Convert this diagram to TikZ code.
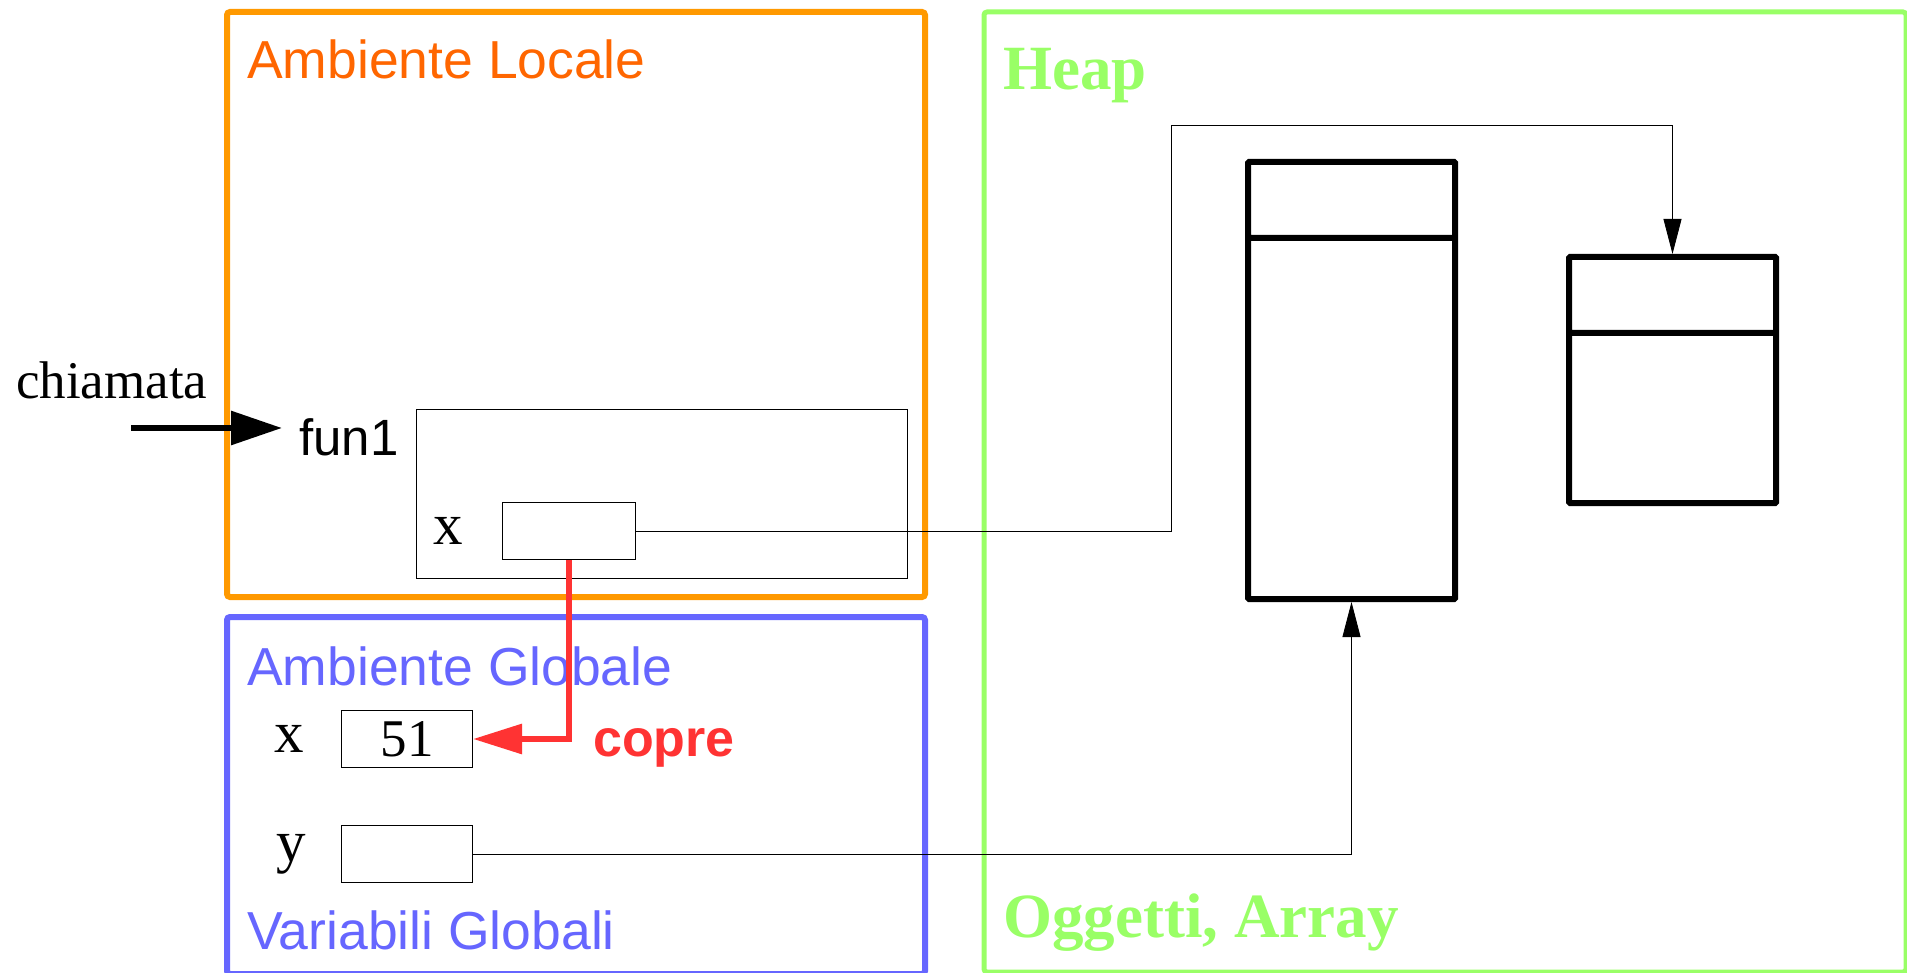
\documentclass[tikz,border=0pt]{standalone}
\usepackage{fontspec}
\setmainfont{Liberation Serif}
\setsansfont{Liberation Sans}
\usepackage{tikz}
\usetikzlibrary{shapes.multipart}
\usetikzlibrary{arrows.meta}
\usetikzlibrary{positioning}

\definecolor{localorange}{HTML}{FF9900}
\definecolor{localtext}{HTML}{FF6600}
\definecolor{globalblue}{HTML}{6666FF}
\definecolor{heapgreen}{HTML}{99FF66}
\definecolor{coverred}{HTML}{FF3333}

\begin{document}
\begin{tikzpicture}[x=1pt, y=-1pt,
		areabox/.style={rectangle, draw, line width=6pt, rounded corners=3pt, inner sep=0pt, outer sep=0pt, anchor=north west},
		varbox/.style={rectangle, draw, line width=1pt, inner sep=0pt, minimum width=131pt, minimum height=57pt, anchor=north west, font=\fontsize{53}{60}\selectfont},
		objbox/.style={rectangle split, rectangle split parts=2, draw, line width=6pt, rounded corners=1pt, inner sep=0pt, minimum width=207pt, anchor=north west},
		areatitle/.style={anchor=base west, inner sep=0pt, font=\sffamily\fontsize{53.5}{60}\selectfont},
		heaptitle/.style={anchor=base west, inner sep=0pt, text=heapgreen, font=\bfseries\fontsize{63}{70}\selectfont},
		varlabel/.style={inner sep=0pt, font=\fontsize{59}{60}\selectfont},
		refarrow/.style={-{Triangle[length=35pt, width=18pt]}, line width=0.8pt},
		bigarrow/.style={line width=6pt}]
		
		\path[use as bounding box, fill=white] (0,0) rectangle (1907,973);
		
		% memory areas
		\node[areabox, draw=localorange, minimum width=698pt, minimum height=585pt] (local) at (227,12) {};
		\node[areabox, draw=globalblue, minimum width=698pt, minimum height=357pt] (global) at (227,617) {};
		\node[areabox, draw=heapgreen, line width=5pt, minimum width=922pt, minimum height=960pt] (heap) at (984,12) {};
		
		\node[areatitle, text=localtext] (localname) at (247,79) {Ambiente Locale};
		\node[areatitle, text=globalblue] (globalname) at (247,685) {Ambiente Globale};
		\node[areatitle, text=globalblue] (globalvars) at (247,949) {Variabili Globali};
		\node[heaptitle] (heapname) at (1003,90) {Heap};
		\node[heaptitle] (heapobjs) at (1003,937) {Oggetti, Array};
		
		% activation record of fun1
		\node[varbox, minimum width=491pt, minimum height=169pt] (frame) at (416,409) {};
		\node[anchor=base west, inner sep=0pt, font=\sffamily\fontsize{51}{60}\selectfont] (fun) at (299,456) {fun1};
		\node[anchor=base west, inner sep=0pt, font=\fontsize{53}{60}\selectfont] (chiamata) at (16,399) {chiamata};
		\coordinate (caller) at (131,428);
		\draw[bigarrow, -{Triangle[length=51pt, width=33pt]}, shorten >=17pt] (caller) -- (caller -| fun.west);
		
		\node[varbox, minimum width=133pt] (xloc) at (502,502) {};
		\node[varlabel, left=39pt of xloc] (xlocname) {x};
		
		% global variables
		\node[varbox] (xglob) at (341,710) {51};
		\node[varbox] (yglob) at (341,825) {};
		\node[varlabel, left=37pt of xglob] (xglobname) {x};
		\node[varlabel, left=35pt of yglob] (yglobname) {y};
		
		% objects on the heap
		\node[objbox] (arr1) at (1245,159) {\rule{0pt}{70pt}\nodepart{two}\rule{0pt}{355pt}};
		\node[objbox] (arr2) at (1566,254) {\rule{0pt}{70pt}\nodepart{two}\rule{0pt}{164pt}};
		
		\coordinate (bend) at (1171,125);
		\draw[refarrow] (xloc.east) -| (bend) -| (arr2.north);
		\draw[refarrow] (yglob.east) -| (arr1.south);
		
		% local x hides global x
		\draw[bigarrow, coverred, -{Triangle[length=49pt, width=29pt]}] (xloc.south) |- (xglob.east);
		\node[anchor=base west, inner sep=0pt, text=coverred, font=\sffamily\bfseries\fontsize{52}{60}\selectfont] (copre) at (593,756) {copre};
		
	\end{tikzpicture}
\end{document}
